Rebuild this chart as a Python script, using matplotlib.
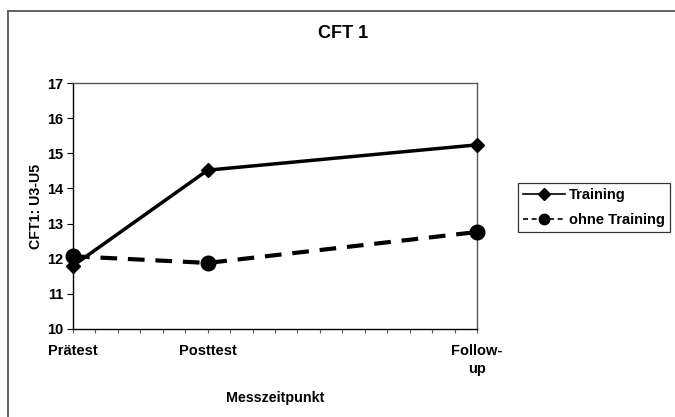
import matplotlib.pyplot as plt
from matplotlib.lines import Line2D

plt.rcParams['font.family'] = ['Liberation Sans', 'DejaVu Sans']
plt.rcParams['font.weight'] = 'bold'

# Messzeitpunkte (x in Wochen / Abstand wie im Original)
zeitpunkte = ['Prätest', 'Posttest', 'Follow-\nup']
x_pos = [0, 6, 18]
training = [11.8, 14.52, 15.24]
ohne_training = [12.07, 11.88, 12.76]

fig = plt.figure(figsize=(6.75, 4.17), dpi=100)
ax = fig.add_axes([73/675, 88/417, 404/675, 246/417])

ax.plot(x_pos, training, color='black', lw=2.5, marker='D', ms=7.5,
        label='Training', clip_on=False, zorder=3)
ax.plot(x_pos, ohne_training, color='black', lw=3, ls=(0, (4, 2.6)),
        marker='o', ms=10.5, label='ohne Training', clip_on=False, zorder=3)

ax.set_xlim(0, 18)
ax.set_ylim(10, 17)
ax.set_yticks(range(10, 18))
ax.set_xticks(x_pos)
ax.set_xticklabels(zeitpunkte, fontsize=10.5, fontweight='bold', linespacing=1.3)
ax.set_xticks(range(0, 19), minor=True)
ax.tick_params(axis='x', which='both', length=3, width=0.8, color='#555555', pad=8)
ax.tick_params(axis='y', length=4, width=0.8, labelsize=10.5, pad=3)
for lab in ax.get_yticklabels():
    lab.set_fontweight('bold')
for sp in ax.spines.values():
    sp.set_color('#555555')
    sp.set_linewidth(1.0)
ax.spines['left'].set_color('black')
ax.spines['bottom'].set_color('black')

ax.set_xlabel('Messzeitpunkt', fontsize=10.3, fontweight='bold', labelpad=11)
ax.set_ylabel('CFT1: U3-U5', fontsize=10.2, fontweight='bold', labelpad=3)
fig.text(343/675, 1 - 34/417, 'CFT 1', ha='center', va='center',
         fontsize=13, fontweight='bold')

handles = [
    Line2D([], [], color='black', lw=1.2, marker='D', ms=6),
    Line2D([], [], color='black', lw=1.2, ls=(0, (3, 2.2)), marker='o', ms=7.5),
]
leg = fig.legend(handles, ['Training', 'ohne Training'], loc='upper left',
                 bbox_to_anchor=(518/675, 1 - 183/417), fontsize=10.5,
                 frameon=True, fancybox=False, borderpad=0.35,
                 handlelength=2.9, handletextpad=0.25, labelspacing=0.75,
                 borderaxespad=0)
leg.get_frame().set_edgecolor('black')
leg.get_frame().set_linewidth(0.9)
for t in leg.get_texts():
    t.set_fontweight('bold')

# Rahmen des Diagramms (links und oben sichtbar)
fig.add_artist(Line2D([7.5/675, 7.5/675], [0, 1 - 11/417],
                      transform=fig.transFigure, color='#555555', lw=1.3))
fig.add_artist(Line2D([7.5/675, 1], [1 - 11/417, 1 - 11/417],
                      transform=fig.transFigure, color='#555555', lw=1.3))

fig.savefig('out.png', dpi=100)
